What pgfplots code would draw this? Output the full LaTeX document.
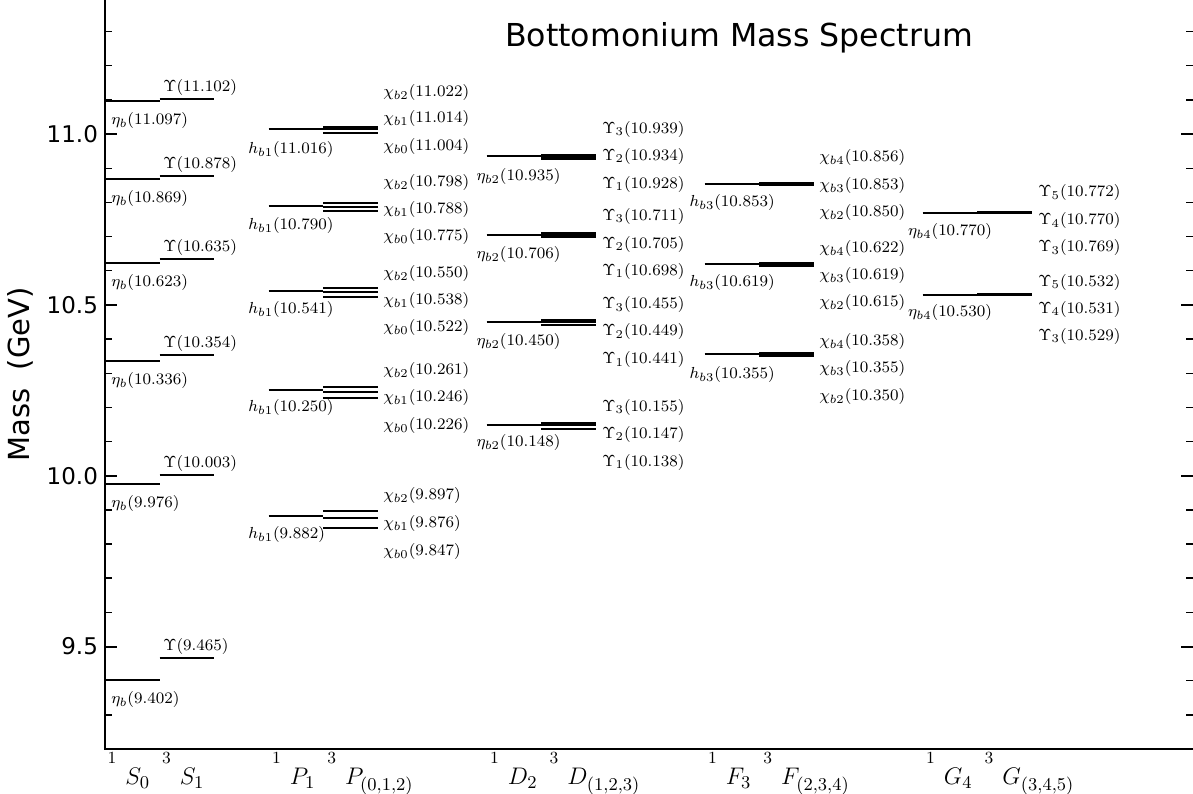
\documentclass[border=0pt]{standalone}
\usepackage[no-math]{fontspec}
\usepackage{pgfplots}
\pgfplotsset{compat=1.18}
\newfontfamily\dejavu{DejaVu Sans}
\newcommand\up[1]{\raisebox{10.5pt}{\fontsize{8.5}{10}\selectfont #1}}
\newcommand\mult[4]{$\up{1}\hspace{4.5pt}#1_{#2}\hspace{6pt}\up{3}\hspace{4.5pt}#3_{#4}$}
\begin{document}
\begin{tikzpicture}[lbl/.style={anchor=west, inner sep=0pt, font=\fontsize{8.4}{10}\selectfont}]
\begin{axis}[
  scale only axis,
  width=544pt, height=374.5pt,
  xmin=0, xmax=19.963,
  ymin=9.2, ymax=11.3926,
  axis line style={draw=none},
  clip=false,
  xtick=\empty,
  ytick={9.5,10,10.5,11},
  yticklabels={9.5,10.0,10.5,11.0},
  minor ytick={9.3,9.4,9.6,9.7,9.8,9.9,10.1,10.2,10.3,10.4,10.6,10.7,10.8,10.9,11.1,11.2,11.3},
  yticklabel pos=left,
  yticklabel style={font=\dejavu\fontsize{11.5}{13}\selectfont},
  tick align=inside,
  major tick length=6pt,
  minor tick length=3.5pt,
  tick style={black},
  major tick style={line width=1pt},
  minor tick style={line width=0.7pt},
  ylabel={Mass\ \ (GeV)},
  ylabel style={at={(axis description cs:-0.0773,0.5)}, anchor=center, font=\dejavu\fontsize{14.5}{16}\selectfont},
  lvl/.style={black, line width=1pt, unbounded coords=jump},
]
% spines (left and bottom only)
\draw[line width=1.1pt] (rel axis cs:0,1) -- (rel axis cs:0,0) -- (rel axis cs:1,0);

% ---- S wave ----
\addplot[lvl] coordinates {(0,9.402)(1,9.402) (0,nan) (0,9.976)(1,9.976) (0,nan) (0,10.336)(1,10.336) (0,nan) (0,10.623)(1,10.623) (0,nan) (0,10.869)(1,10.869) (0,nan) (0,11.097)(1,11.097)};
\addplot[lvl] coordinates {(1,9.465)(2,9.465) (1,nan) (1,10.003)(2,10.003) (1,nan) (1,10.354)(2,10.354) (1,nan) (1,10.635)(2,10.635) (1,nan) (1,10.878)(2,10.878) (1,nan) (1,11.102)(2,11.102)};
% ---- P wave ----
\addplot[lvl] coordinates {(3,9.882)(4,9.882) (3,nan) (3,10.250)(4,10.250) (3,nan) (3,10.541)(4,10.541) (3,nan) (3,10.790)(4,10.790) (3,nan) (3,11.016)(4,11.016)};
\addplot[lvl] coordinates {(4,9.847)(5,9.847) (4,nan) (4,9.876)(5,9.876) (4,nan) (4,9.897)(5,9.897) (4,nan)
 (4,10.226)(5,10.226) (4,nan) (4,10.246)(5,10.246) (4,nan) (4,10.261)(5,10.261) (4,nan)
 (4,10.522)(5,10.522) (4,nan) (4,10.538)(5,10.538) (4,nan) (4,10.550)(5,10.550) (4,nan)
 (4,10.775)(5,10.775) (4,nan) (4,10.788)(5,10.788) (4,nan) (4,10.798)(5,10.798) (4,nan)
 (4,11.004)(5,11.004) (4,nan) (4,11.014)(5,11.014) (4,nan) (4,11.022)(5,11.022)};
% ---- D wave ----
\addplot[lvl] coordinates {(7,10.148)(8,10.148) (7,nan) (7,10.450)(8,10.450) (7,nan) (7,10.706)(8,10.706) (7,nan) (7,10.935)(8,10.935)};
\addplot[lvl] coordinates {(8,10.138)(9,10.138) (8,nan) (8,10.147)(9,10.147) (8,nan) (8,10.155)(9,10.155) (8,nan)
 (8,10.441)(9,10.441) (8,nan) (8,10.449)(9,10.449) (8,nan) (8,10.455)(9,10.455) (8,nan)
 (8,10.698)(9,10.698) (8,nan) (8,10.705)(9,10.705) (8,nan) (8,10.711)(9,10.711) (8,nan)
 (8,10.928)(9,10.928) (8,nan) (8,10.934)(9,10.934) (8,nan) (8,10.939)(9,10.939)};
% ---- F wave ----
\addplot[lvl] coordinates {(11,10.355)(12,10.355) (11,nan) (11,10.619)(12,10.619) (11,nan) (11,10.853)(12,10.853)};
\addplot[lvl] coordinates {(12,10.350)(13,10.350) (12,nan) (12,10.355)(13,10.355) (12,nan) (12,10.358)(13,10.358) (12,nan)
 (12,10.615)(13,10.615) (12,nan) (12,10.619)(13,10.619) (12,nan) (12,10.622)(13,10.622) (12,nan)
 (12,10.850)(13,10.850) (12,nan) (12,10.853)(13,10.853) (12,nan) (12,10.856)(13,10.856)};
% ---- G wave ----
\addplot[lvl] coordinates {(15,10.530)(16,10.530) (15,nan) (15,10.770)(16,10.770)};
\addplot[lvl] coordinates {(16,10.529)(17,10.529) (16,nan) (16,10.531)(17,10.531) (16,nan) (16,10.532)(17,10.532) (16,nan)
 (16,10.769)(17,10.769) (16,nan) (16,10.770)(17,10.770) (16,nan) (16,10.772)(17,10.772)};

% ---- labels S ----
\node[lbl] at (axis cs:1.064,11.136) {$\Upsilon(11.102)$};
\node[lbl] at (axis cs:1.064,10.912) {$\Upsilon(10.878)$};
\node[lbl] at (axis cs:1.064,10.669) {$\Upsilon(10.635)$};
\node[lbl] at (axis cs:1.064,10.388) {$\Upsilon(10.354)$};
\node[lbl] at (axis cs:1.064,10.037) {$\Upsilon(10.003)$};
\node[lbl] at (axis cs:1.064,9.499) {$\Upsilon(9.465)$};
\node[lbl] at (axis cs:0.11,11.039) {$\eta_b(11.097)$};
\node[lbl] at (axis cs:0.11,10.811) {$\eta_b(10.869)$};
\node[lbl] at (axis cs:0.11,10.565) {$\eta_b(10.623)$};
\node[lbl] at (axis cs:0.11,10.278) {$\eta_b(10.336)$};
\node[lbl] at (axis cs:0.11,9.918) {$\eta_b(9.976)$};
\node[lbl] at (axis cs:0.11,9.344) {$\eta_b(9.402)$};
% ---- labels P ----
\node[lbl] at (axis cs:2.624,10.954) {$h_{b1}(11.016)$};
\node[lbl] at (axis cs:2.624,10.731) {$h_{b1}(10.790)$};
\node[lbl] at (axis cs:2.624,10.486) {$h_{b1}(10.541)$};
\node[lbl] at (axis cs:2.624,10.199) {$h_{b1}(10.250)$};
\node[lbl] at (axis cs:2.624,9.827) {$h_{b1}(9.882)$};
\node[lbl] at (axis cs:5.10,11.121) {$\chi_{b2}(11.022)$};
\node[lbl] at (axis cs:5.10,11.045) {$\chi_{b1}(11.014)$};
\node[lbl] at (axis cs:5.10,10.963) {$\chi_{b0}(11.004)$};
\node[lbl] at (axis cs:5.10,10.857) {$\chi_{b2}(10.798)$};
\node[lbl] at (axis cs:5.10,10.778) {$\chi_{b1}(10.788)$};
\node[lbl] at (axis cs:5.10,10.699) {$\chi_{b0}(10.775)$};
\node[lbl] at (axis cs:5.10,10.591) {$\chi_{b2}(10.550)$};
\node[lbl] at (axis cs:5.10,10.512) {$\chi_{b1}(10.538)$};
\node[lbl] at (axis cs:5.10,10.433) {$\chi_{b0}(10.522)$};
\node[lbl] at (axis cs:5.10,10.307) {$\chi_{b2}(10.261)$};
\node[lbl] at (axis cs:5.10,10.228) {$\chi_{b1}(10.246)$};
\node[lbl] at (axis cs:5.10,10.146) {$\chi_{b0}(10.226)$};
\node[lbl] at (axis cs:5.10,9.941) {$\chi_{b2}(9.897)$};
\node[lbl] at (axis cs:5.10,9.859) {$\chi_{b1}(9.876)$};
\node[lbl] at (axis cs:5.10,9.777) {$\chi_{b0}(9.847)$};
% ---- labels D ----
\node[lbl] at (axis cs:6.81,10.875) {$\eta_{b2}(10.935)$};
\node[lbl] at (axis cs:6.81,10.647) {$\eta_{b2}(10.706)$};
\node[lbl] at (axis cs:6.81,10.392) {$\eta_{b2}(10.450)$};
\node[lbl] at (axis cs:6.81,10.096) {$\eta_{b2}(10.148)$};
\node[lbl] at (axis cs:9.12,11.013) {$\Upsilon_3(10.939)$};
\node[lbl] at (axis cs:9.12,10.934) {$\Upsilon_2(10.934)$};
\node[lbl] at (axis cs:9.12,10.852) {$\Upsilon_1(10.928)$};
\node[lbl] at (axis cs:9.12,10.758) {$\Upsilon_3(10.711)$};
\node[lbl] at (axis cs:9.12,10.676) {$\Upsilon_2(10.705)$};
\node[lbl] at (axis cs:9.12,10.597) {$\Upsilon_1(10.698)$};
\node[lbl] at (axis cs:9.12,10.500) {$\Upsilon_3(10.455)$};
\node[lbl] at (axis cs:9.12,10.421) {$\Upsilon_2(10.449)$};
\node[lbl] at (axis cs:9.12,10.339) {$\Upsilon_1(10.441)$};
\node[lbl] at (axis cs:9.12,10.201) {$\Upsilon_3(10.155)$};
\node[lbl] at (axis cs:9.12,10.122) {$\Upsilon_2(10.147)$};
\node[lbl] at (axis cs:9.12,10.040) {$\Upsilon_1(10.138)$};
% ---- labels F ----
\node[lbl] at (axis cs:10.72,10.799) {$h_{b3}(10.853)$};
\node[lbl] at (axis cs:10.72,10.565) {$h_{b3}(10.619)$};
\node[lbl] at (axis cs:10.72,10.296) {$h_{b3}(10.355)$};
\node[lbl] at (axis cs:13.10,10.931) {$\chi_{b4}(10.856)$};
\node[lbl] at (axis cs:13.10,10.849) {$\chi_{b3}(10.853)$};
\node[lbl] at (axis cs:13.10,10.770) {$\chi_{b2}(10.850)$};
\node[lbl] at (axis cs:13.10,10.664) {$\chi_{b4}(10.622)$};
\node[lbl] at (axis cs:13.10,10.585) {$\chi_{b3}(10.619)$};
\node[lbl] at (axis cs:13.10,10.506) {$\chi_{b2}(10.615)$};
\node[lbl] at (axis cs:13.10,10.392) {$\chi_{b4}(10.358)$};
\node[lbl] at (axis cs:13.10,10.313) {$\chi_{b3}(10.355)$};
\node[lbl] at (axis cs:13.10,10.231) {$\chi_{b2}(10.350)$};
% ---- labels G ----
\node[lbl] at (axis cs:14.73,10.714) {$\eta_{b4}(10.770)$};
\node[lbl] at (axis cs:14.73,10.477) {$\eta_{b4}(10.530)$};
\node[lbl] at (axis cs:17.12,10.828) {$\Upsilon_5(10.772)$};
\node[lbl] at (axis cs:17.12,10.746) {$\Upsilon_4(10.770)$};
\node[lbl] at (axis cs:17.12,10.667) {$\Upsilon_3(10.769)$};
\node[lbl] at (axis cs:17.12,10.565) {$\Upsilon_5(10.532)$};
\node[lbl] at (axis cs:17.12,10.486) {$\Upsilon_4(10.531)$};
\node[lbl] at (axis cs:17.12,10.407) {$\Upsilon_3(10.529)$};

% ---- title ----
\node[anchor=base, font=\dejavu\fontsize{15.8}{18}\selectfont] at (axis cs:11.633,11.2556) {Bottomonium Mass Spectrum};

% ---- multiplet names ----
\begin{scope}[every node/.style={anchor=base west, inner sep=0pt, font=\fontsize{13}{15}\selectfont}]
\node at ([yshift=-18pt]axis cs:0.04,9.2) {\mult{S}{0}{S}{1}};
\node at ([yshift=-18pt]axis cs:3.06,9.2) {\mult{P}{1}{P}{(0,1,2)}};
\node at ([yshift=-18pt]axis cs:7.06,9.2) {\mult{D}{2}{D}{(1,2,3)}};
\node at ([yshift=-18pt]axis cs:11.06,9.2) {\mult{F}{3}{F}{(2,3,4)}};
\node at ([yshift=-18pt]axis cs:15.06,9.2) {\mult{G}{4}{G}{(3,4,5)}};
\end{scope}
\end{axis}
\pgfresetboundingbox
\path[use as bounding box] ([xshift=-52.5pt,yshift=-22.5pt]current axis.south west) rectangle (current axis.north east);
\end{tikzpicture}
\end{document}
